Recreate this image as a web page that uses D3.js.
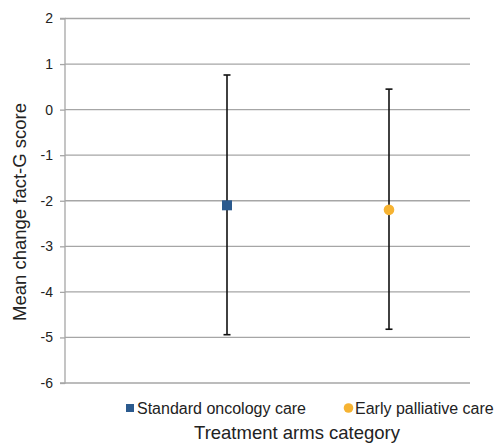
<!DOCTYPE html>
<html><head><meta charset="utf-8">
<script src="https://cdn.jsdelivr.net/npm/d3@7"></script>
<style>body{margin:0;background:#fff}svg{display:block;font-family:"Liberation Sans",Arial,sans-serif}</style>
</head><body><svg id="c" width="494" height="443"></svg>
<script>
const categories = ["Standard oncology care", "Early palliative care"];
const xPositions = [1, 2];
const means = [-2.1, -2.2];
const upper = [0.76, 0.45];
const lower = [-4.94, -4.82];
const colors = ["#2b5a8e", "#f6b332"];
const yTicks = [2, 1, 0, -1, -2, -3, -4, -5, -6];

const svg = d3.select("#c");
const x = d3.scaleLinear().domain([0, 2.5]).range([65, 470]);
const y = d3.scaleLinear().domain([-6, 2]).range([383, 18.5]);

// gridlines
svg.append("g").selectAll("line").data(yTicks).join("line")
  .attr("x1", 65).attr("x2", 470)
  .attr("y1", d => y(d)).attr("y2", d => y(d))
  .attr("stroke", "#a6a6a6").attr("stroke-width", 1.3);

const ax = svg.append("g").attr("transform", "translate(65,0)")
  .call(d3.axisLeft(y).tickValues(yTicks).tickSize(5).tickPadding(7).tickFormat(d => String(d)));
ax.select(".domain").attr("stroke", "#a6a6a6").attr("stroke-width", 1.3).attr("d", `M-5,${y(2)}H0V${y(-6)}H-5`);
ax.selectAll(".tick line").attr("stroke", "#a6a6a6").attr("stroke-width", 1.3);
ax.selectAll(".tick text").attr("font-size", 14).attr("fill", "#222").attr("font-family", "Liberation Sans, Arial, sans-serif");

// error bars
const eb = svg.append("g");
categories.forEach((c, i) => {
  const cx = x(xPositions[i]);
  eb.append("line").attr("x1", cx).attr("x2", cx).attr("y1", y(upper[i])).attr("y2", y(lower[i]))
    .attr("stroke", "#111").attr("stroke-width", 1.6);
  [upper[i], lower[i]].forEach(v => {
    eb.append("line").attr("x1", cx - 3.5).attr("x2", cx + 3.5).attr("y1", y(v)).attr("y2", y(v))
      .attr("stroke", "#111").attr("stroke-width", 1.6);
  });
});

// markers
svg.append("rect").attr("x", x(xPositions[0]) - 5).attr("y", y(means[0]) - 5)
  .attr("width", 10).attr("height", 10).attr("fill", colors[0]);
svg.append("circle").attr("cx", x(xPositions[1])).attr("cy", y(means[1])).attr("r", 5.3).attr("fill", colors[1]);

// legend
const lg = svg.append("g").attr("font-size", 16).attr("fill", "#222");
lg.append("rect").attr("x", 129).attr("y", 404).attr("width", 8).attr("height", 8).attr("fill", colors[0]);
const t1 = lg.append("text").attr("x", 306).attr("y", 413.5).attr("text-anchor", "end").text(categories[0]);
lg.append("circle").attr("cx", 348.5).attr("cy", 408).attr("r", 4.8).attr("fill", colors[1]);
lg.append("text").attr("x", 355).attr("y", 413.5).text(categories[1]);
const bb = t1.node().getBBox();
lg.select("rect").attr("x", bb.x - 11);

// axis titles
svg.append("text").attr("x", 297).attr("y", 439).attr("text-anchor", "middle")
  .attr("font-size", 18.5).attr("fill", "#222").text("Treatment arms category");
svg.append("text").attr("transform", "translate(26,212) rotate(-90)").attr("text-anchor", "middle")
  .attr("font-size", 18.5).attr("fill", "#222").text("Mean change fact-G score");
</script></body></html>
